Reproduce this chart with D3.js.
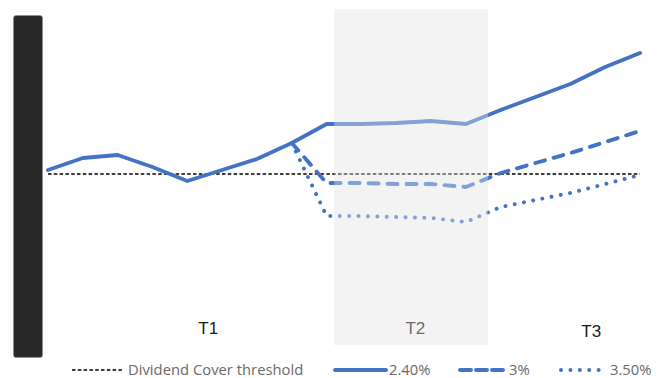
<!DOCTYPE html>
<html>
<head>
<meta charset="utf-8">
<script src="https://cdn.jsdelivr.net/npm/d3@7"></script>
<style>
  body { margin: 0; background: #fff; }
  svg { display: block; }
</style>
</head>
<body>
<svg width="659" height="378"></svg>
<script>
// Data (arbitrary "cover" units, threshold = 1)
let steps = d3.range(18); // 18 periods on the x axis
let threshold = 1.0;
let rate240 = [1.04, 1.16, 1.19, 1.07, 0.93, 1.04, 1.15, 1.31, 1.50, 1.50, 1.51, 1.53, 1.50, 1.64, 1.77, 1.90, 2.07, 2.21];
// the two other scenarios split off at period 7
let rate300 = [null, null, null, null, null, null, null, 1.31, 0.91, 0.91, 0.90, 0.90, 0.87, 1.01, 1.11, 1.21, 1.32, 1.43];
let rate350 = [null, null, null, null, null, null, null, 1.31, 0.58, 0.58, 0.57, 0.56, 0.52, 0.67, 0.74, 0.81, 0.90, 0.99];
let periodNames = ["T1", "T2", "T3"];
let periodAt = [4.6, 10.55, 15.6];    // where each period label sits on the x axis
let t2Band = [8.22, 12.64];           // shaded T2 window
let seriesNames = ["2.40%", "3%", "3.50%"];
let thresholdName = "Dividend Cover threshold";

let svg = d3.select("svg"),
    width = +svg.attr("width"),
    height = +svg.attr("height");

let blue = "#4472c4";

let x = d3.scaleLinear()
    .domain([0, 17])
    .range([48, 640]);

let y = d3.scaleLinear()
    .domain([0, 2])
    .range([274, 74]);

// shaded T2 window (behind the lines)
svg.append("rect")
    .attr("x", x(t2Band[0]))
    .attr("y", 9)
    .attr("width", x(t2Band[1]) - x(t2Band[0]))
    .attr("height", 336)
    .attr("fill", "#f3f3f3");

// threshold
svg.append("line")
    .attr("x1", x(0))
    .attr("x2", x(17))
    .attr("y1", y(threshold))
    .attr("y2", y(threshold))
    .attr("stroke", "#000")
    .attr("stroke-width", 1.6)
    .attr("stroke-dasharray", "3.5 2.3");

let line = d3.line()
    .defined(d => d != null)
    .x((d, i) => x(i))
    .y(d => y(d));

let styles = [
    { dash: null },
    { dash: "10 9" },
    { dash: "0.1 9.3" }
];

[rate240, rate300, rate350].forEach((s, k) => {
    svg.append("path")
        .datum(s)
        .attr("d", line)
        .attr("fill", "none")
        .attr("stroke", blue)
        .attr("stroke-width", 3.9)
        .attr("stroke-linejoin", "round")
        .attr("stroke-linecap", "round")
        .attr("stroke-dasharray", styles[k].dash);
});

// period labels
svg.selectAll(".period")
    .data(periodNames)
    .enter()
    .append("text")
    .attr("class", "period")
    .attr("x", (d, i) => x(periodAt[i]))
    .attr("y", (d, i) => i == 2 ? 337 : 334)
    .attr("text-anchor", "middle")
    .style("font-family", "'Liberation Sans', Arial, sans-serif")
    .style("font-size", "17px")
    .style("fill", "#1a1a1a")
    .text(d => d);

// light wash over the T2 window, fades the lines inside it
svg.append("rect")
    .attr("x", x(t2Band[0]))
    .attr("y", 9)
    .attr("width", x(t2Band[1]) - x(t2Band[0]))
    .attr("height", 336)
    .attr("fill", "#f3f3f3")
    .attr("fill-opacity", 0.36);

// dark bar on the left (covers the axis)
svg.append("rect")
    .attr("x", 13.5)
    .attr("y", 15.5)
    .attr("width", 29)
    .attr("height", 342)
    .attr("rx", 2.5)
    .attr("fill", "#282828")
    .attr("stroke", "#8c8c8c")
    .attr("stroke-width", 0.6);

// --------------- //
// LEGEND //
// --------------- //
let legendFont = "'Open Sans', 'Noto Sans', sans-serif";
let ly = 370;
let legend = [
    { name: thresholdName, x1: 72, x2: 122, color: "#000", w: 1.6, dash: "3.5 2.3", cap: "butt" },
    { name: seriesNames[0], x1: 335, x2: 386, color: blue, w: 3.9, dash: null, cap: "round" },
    { name: seriesNames[1], x1: 460, x2: 506, color: blue, w: 3.9, dash: "11 5", cap: "round" },
    { name: seriesNames[2], x1: 561, x2: 607, color: blue, w: 3.9, dash: "0.1 9.3", cap: "round" }
];

let lg = svg.append("g").attr("class", "legend");

legend.forEach(d => {
    lg.append("line")
        .attr("x1", d.x1)
        .attr("x2", d.x2)
        .attr("y1", ly)
        .attr("y2", ly)
        .attr("stroke", d.color)
        .attr("stroke-width", d.w)
        .attr("stroke-linecap", d.cap)
        .attr("stroke-dasharray", d.dash);
    lg.append("text")
        .attr("x", d.x2 + (d.cap == "butt" ? 6 : 3))
        .attr("y", ly + 4.5)
        .style("font-family", legendFont)
        .style("font-size", "14.8px")
        .style("fill", "#6a6a6a")
        .text(d.name);
});
</script>
</body>
</html>
